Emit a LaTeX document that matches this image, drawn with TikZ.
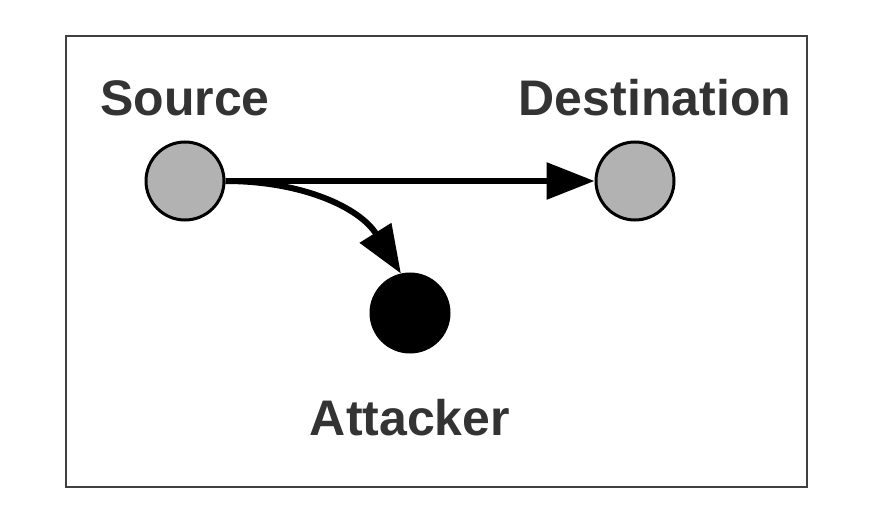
\documentclass[tikz,border=0pt]{standalone}
\usepackage{fontspec}
\setmainfont{Liberation Sans}
\usetikzlibrary{arrows.meta,positioning}

\begin{document}
\begin{tikzpicture}[x=1pt,y=1pt]
\tikzset{host/.style={circle,draw,line width=3pt,minimum size=78pt,inner sep=0pt,fill=gray!60}}
\tikzset{evil/.style={host,fill=black}}
\tikzset{tag/.style={inner sep=0pt,text=black!80,font=\fontsize{50}{60}\selectfont\bfseries}}
\tikzset{flow/.style={line width=6pt,-{Triangle[length=48pt,width=36pt]}}}

\useasboundingbox (0,0) rectangle (872,520);
\draw[line width=2pt,black!75] (66,484) rectangle (807,33);

\node [host] (src) at (185,339) {};
\node [host] (dst) at (635,339) {};
\node [evil] (att) at (410,207) {};

\node [tag, anchor=base] (srclabel) at (185,404) {Source};
\node [tag, anchor=base] (dstlabel) at (655,404) {Destination};
\node [tag, anchor=base] (attlabel) at (410,85) {Attacker};

\draw[flow] (src.east) -- (dst.west);
\draw[flow] (src.east) to [out=0,in=122] (att.103);
\end{tikzpicture}
\end{document}
